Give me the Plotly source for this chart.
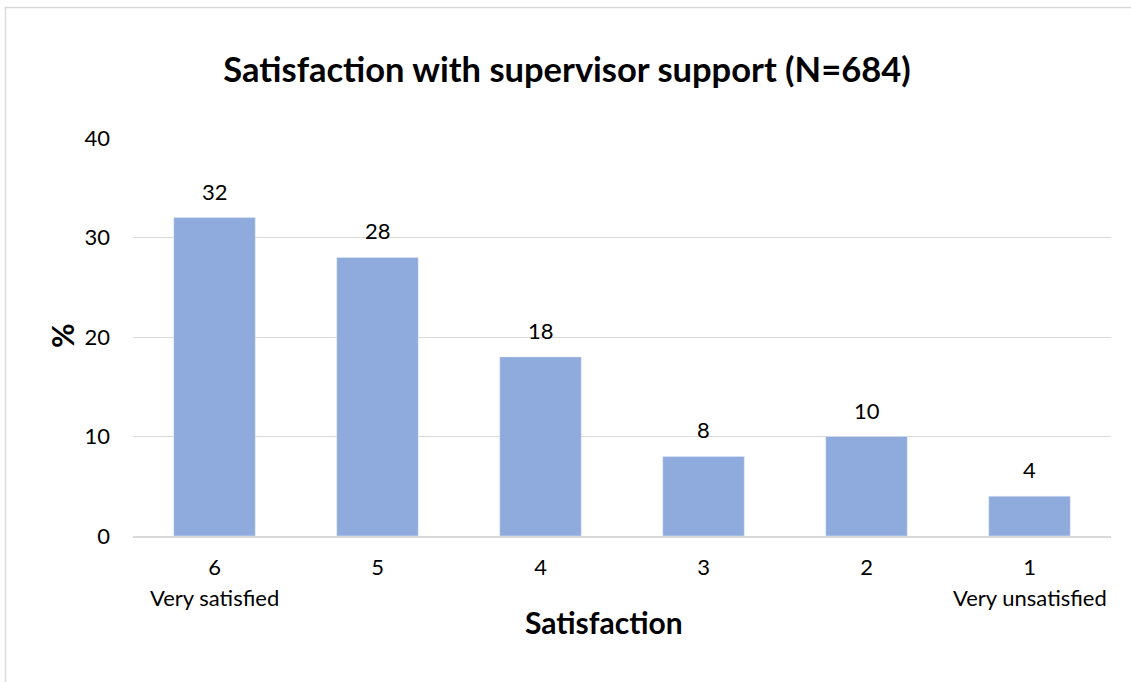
import plotly.graph_objects as go

categories = ["6", "5", "4", "3", "2", "1"]
values = [32, 28, 18, 8, 10, 4]
descriptors = ["Very satisfied", "", "", "", "", "Very unsatisfied"]
y_ticks = [0, 10, 20, 30, 40]

FONT = "Lato"
BAR = "#8FAADC"
GRID = "#D9D9D9"
TS = 22

W, H = 1131, 682
L, R, T, B = 133, 20, 138, 146
pw, ph = W - L - R, H - T - B

def px_x(x):
    return (x - L) / pw

def px_y(y):
    return (H - B - y) / ph

idx = list(range(len(categories)))

fig = go.Figure()
fig.add_trace(go.Bar(x=idx, y=values, marker_color=BAR, width=0.5,
                     hoverinfo="skip"))

annotations = []
for i, v in zip(idx, values):
    annotations.append(dict(x=i, y=v, xref="x", yref="y", text=str(v),
                            showarrow=False, yanchor="bottom", yshift=11,
                            font=dict(family=FONT, size=TS, color="#000")))
for i, d in zip(idx, descriptors):
    if d:
        annotations.append(dict(x=i, y=px_y(597), xref="x", yref="paper", text=d,
                                showarrow=False, yanchor="middle",
                                font=dict(family=FONT, size=TS, color="#000")))
annotations.append(dict(x=px_x(604), y=px_y(622), xref="paper", yref="paper",
                        text="<b>Satisfaction</b>", showarrow=False,
                        xanchor="center", yanchor="middle",
                        font=dict(family=FONT, size=30, color="#000")))
annotations.append(dict(x=px_x(62), y=px_y(336), xref="paper", yref="paper",
                        text="<b>%</b>", showarrow=False, textangle=-90,
                        xanchor="center", yanchor="middle",
                        font=dict(family=FONT, size=30, color="#000")))

fig.update_layout(
    width=W, height=H,
    margin=dict(l=L, r=R, t=T, b=B),
    paper_bgcolor="white", plot_bgcolor="white",
    showlegend=False,
    title=dict(text="<b>Satisfaction with supervisor support (N=684)</b>",
               x=567 / W, xanchor="center", y=1 - 70 / H, yanchor="middle",
               font=dict(family=FONT, size=34.5, color="#000")),
    font=dict(family=FONT, size=TS, color="#000"),
    annotations=annotations,
    shapes=[dict(type="rect", xref="paper", yref="paper",
                 x0=px_x(5.5), x1=px_x(W + 10), y0=px_y(H + 10), y1=px_y(7.5),
                 line=dict(color=GRID, width=1.5), fillcolor="rgba(0,0,0,0)",
                 layer="below")],
)
fig.update_xaxes(range=[-0.5, len(categories) - 0.5], tickvals=idx,
                 ticktext=categories, showgrid=False, zeroline=False,
                 showline=True, linecolor=GRID, linewidth=1.5, ticks="",
                 ticklabelstandoff=11,
                 tickfont=dict(family=FONT, size=TS, color="#000"))
fig.update_yaxes(range=[0, 40], tickvals=y_ticks, showgrid=True, gridcolor=GRID,
                 gridwidth=1, zeroline=False, showline=False, ticks="",
                 ticklabelstandoff=22,
                 tickfont=dict(family=FONT, size=TS, color="#000"))

fig.write_html("out.html")
